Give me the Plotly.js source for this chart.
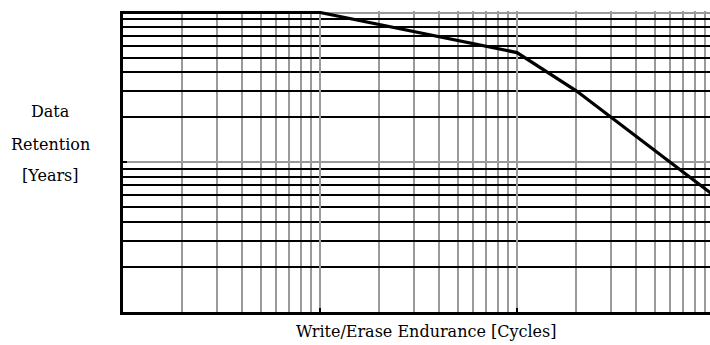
<!DOCTYPE html>
<html>
<head>
<meta charset="utf-8">
<script src="https://cdn.plot.ly/plotly-3.0.1.min.js"></script>
<style>
html, body { margin: 0; padding: 0; background: #fff; overflow: hidden; }
#chart { width: 710px; height: 345px; }
</style>
</head>
<body>
<div id="chart"></div>
<script>
// Data
const cycles = [1e3, 1e4, 1e5, 2e5, 1e6];
const retentionYears = [100, 100, 54, 30, 6];
const xTitle = 'Write/Erase Endurance [Cycles]';
const yTitleLines = ['Data', 'Retention', '[Years]'];

const FONT = 'DejaVu Serif, Liberation Serif, serif';
const GRAY = '#9a9a9a';

const trace = {
  x: cycles,
  y: retentionYears,
  type: 'scatter',
  mode: 'lines',
  line: { color: '#000', width: 3.2 },
  hoverinfo: 'skip'
};

const yPos = [0.665, 0.558, 0.452];
const annotations = yTitleLines.map((t, i) => ({
  text: t, xref: 'paper', yref: 'paper', x: -0.1227, y: yPos[i],
  xanchor: 'center', yanchor: 'middle', showarrow: false,
  font: { family: FONT, size: 16, color: '#000' }
}));
annotations.push({
  text: xTitle, xref: 'paper', yref: 'paper', x: 0.516, y: -0.066,
  xanchor: 'center', yanchor: 'middle', showarrow: false,
  font: { family: FONT, size: 16, color: '#000' }
});

const layout = {
  width: 710, height: 345,
  margin: { l: 123, r: 0, t: 11, b: 33, pad: 0 },
  paper_bgcolor: '#fff', plot_bgcolor: '#fff',
  showlegend: false,
  xaxis: {
    type: 'log', range: [3, 5.98], dtick: 1,
    showticklabels: false, ticks: 'inside', ticklen: 4, tickwidth: 2, tickcolor: '#000',
    showgrid: true, gridcolor: GRAY, gridwidth: 2,
    minor: { dtick: 'D1', showgrid: true, gridcolor: GRAY, gridwidth: 2, ticks: '' },
    showline: true, linecolor: '#000', linewidth: 3, mirror: false,
    zeroline: false, fixedrange: true
  },
  yaxis: {
    type: 'log', range: [0, 2.01], dtick: 1,
    showticklabels: false, ticks: 'inside', ticklen: 4, tickwidth: 2, tickcolor: '#000',
    showgrid: true, gridcolor: GRAY, gridwidth: 2,
    minor: { dtick: 'D1', showgrid: true, gridcolor: '#000', gridwidth: 2, ticks: '' },
    showline: true, linecolor: '#000', linewidth: 3, mirror: false,
    zeroline: false, fixedrange: true
  },
  annotations: annotations
};

Plotly.newPlot('chart', [trace], layout, { staticPlot: true, displayModeBar: false });
</script>
</body>
</html>
